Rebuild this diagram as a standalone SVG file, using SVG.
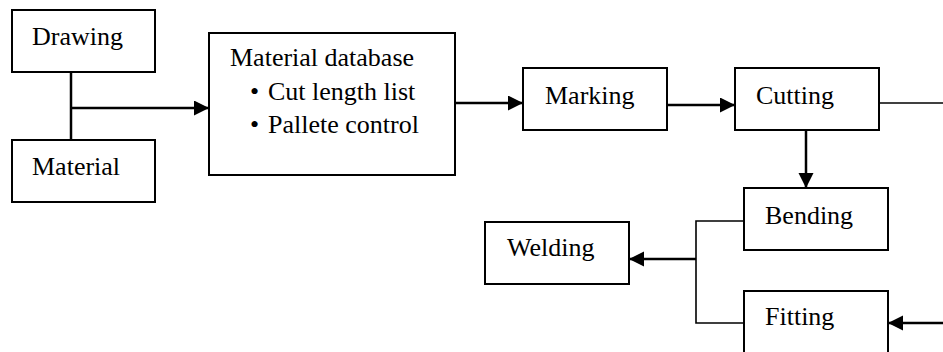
<svg xmlns="http://www.w3.org/2000/svg" width="943" height="352" viewBox="0 0 943 352">
<style>
.box{fill:#fff;stroke:#000;stroke-width:2}
.t{font-family:"Liberation Serif","Times New Roman",serif;font-size:26px;fill:#000}
.a{fill:none;stroke:#000;stroke-width:2.5}
.l{fill:none;stroke:#000;stroke-width:1.6}
</style>
<defs>
<marker id="ah" markerUnits="userSpaceOnUse" markerWidth="16" markerHeight="16" refX="15" refY="7.5" orient="auto">
<path d="M0,0 L15,7.5 L0,15 Z" fill="#000"/>
</marker>
</defs>
<rect width="943" height="352" fill="#fff"/>
<g id="drawing"><rect class="box" x="12" y="10" width="143" height="62"/><text class="t" x="32" y="45">Drawing</text></g>
<g id="material"><rect class="box" x="12" y="140" width="143" height="62"/><text class="t" x="32" y="175">Material</text></g>
<g id="database"><rect class="box" x="209" y="33" width="246" height="142"/>
<text class="t" x="230" y="66">Material database</text>
<text class="t" x="250" y="100">•</text><text class="t" x="268" y="100">Cut length list</text>
<text class="t" x="250" y="133">•</text><text class="t" x="268" y="133">Pallete control</text></g>
<g id="marking"><rect class="box" x="523" y="68" width="144" height="62"/><text class="t" x="545" y="104">Marking</text></g>
<g id="cutting"><rect class="box" x="735" y="68" width="144" height="62"/><text class="t" x="756" y="104">Cutting</text></g>
<g id="bending"><rect class="box" x="744" y="188" width="144" height="62"/><text class="t" x="765" y="224">Bending</text></g>
<g id="welding"><rect class="box" x="485" y="222" width="144" height="62"/><text class="t" x="507" y="256">Welding</text></g>
<g id="fitting"><rect class="box" x="744" y="291" width="144" height="62"/><text class="t" x="765" y="325">Fitting</text></g>
<g id="connectors">
<path class="a" d="M71,72 V140"/>
<path class="a" d="M71,108 H209" marker-end="url(#ah)"/>
<path class="a" d="M455,103 H523" marker-end="url(#ah)"/>
<path class="a" d="M667,105 H735" marker-end="url(#ah)"/>
<path class="l" d="M879,103 H943"/>
<path class="a" d="M806,130 V188" marker-end="url(#ah)"/>
<path class="l" d="M744,221 H696 V323 H744"/>
<path class="a" d="M696,259 H629" marker-end="url(#ah)"/>
<path class="a" d="M943,323 H888" marker-end="url(#ah)"/>
</g>
</svg>
